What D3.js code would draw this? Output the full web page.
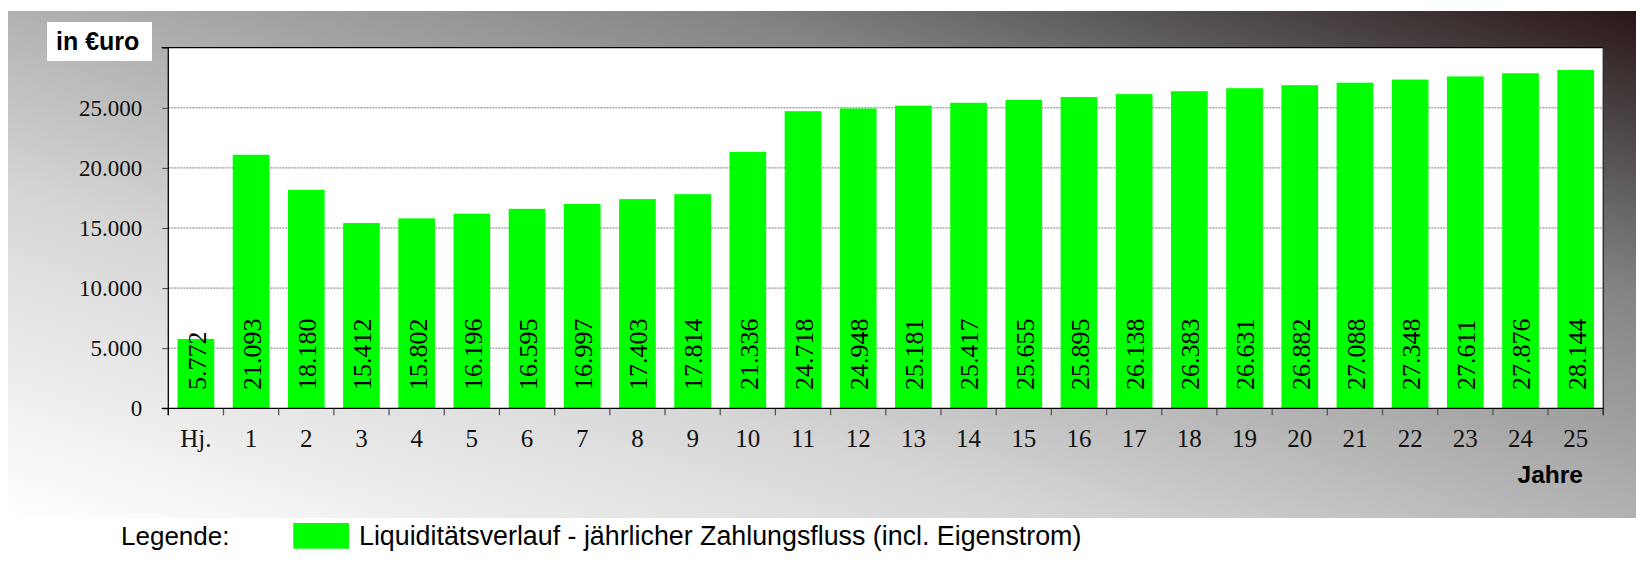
<!DOCTYPE html>
<html>
<head>
<meta charset="utf-8">
<script src="https://cdn.jsdelivr.net/npm/d3@7"></script>
<style>
  html, body { margin: 0; padding: 0; background: #ffffff; }
  svg { display: block; }
</style>
</head>
<body>
<svg id="chart" width="1636" height="576"></svg>
<script>
// ---- data ----
const categories = ["Hj.", "1", "2", "3", "4", "5", "6", "7", "8", "9", "10", "11", "12", "13", "14", "15", "16", "17", "18", "19", "20", "21", "22", "23", "24", "25"];
const values = [5772, 21093, 18180, 15412, 15802, 16196, 16595, 16997, 17403, 17814, 21336, 24718, 24948, 25181, 25417, 25655, 25895, 26138, 26383, 26631, 26882, 27088, 27348, 27611, 27876, 28144];
const yTicks = [0, 5000, 10000, 15000, 20000, 25000, 30000];
const yLabel = "in €uro";
const xLabel = "Jahre";
const legendTitle = "Legende:";
const seriesName = "Liquiditätsverlauf - jährlicher Zahlungsfluss (incl. Eigenstrom)";

const loc = d3.formatLocale({ decimal: ",", thousands: ".", grouping: [3], currency: ["", "€"] });
const fmt = loc.format(",d");

const svg = d3.select("#chart");
const defs = svg.append("defs");
const grad = defs.append("linearGradient").attr("id", "bg")
  .attr("x1", 0).attr("y1", 1).attr("x2", 1).attr("y2", 0);
[[0, "#ffffff"], [0.32, "#d6d6d6"], [0.5, "#b2b2b2"], [0.72, "#848484"], [0.88, "#4c4747"], [1, "#2a1616"]]
  .forEach(([o, c]) => grad.append("stop").attr("offset", o).attr("stop-color", c));

// background panel
svg.append("rect").attr("x", 8).attr("y", 11).attr("width", 1628).attr("height", 507).attr("fill", "url(#bg)");

// plot area
const pLeft = 168.3, pRight = 1603.3, pTop = 47.7, pBottom = 408.3;
svg.append("rect").attr("x", pLeft).attr("y", pTop).attr("width", pRight - pLeft).attr("height", pBottom - pTop).attr("fill", "#ffffff");

const x = d3.scaleBand().domain(categories).range([pLeft, pRight]).paddingInner(0.335).paddingOuter(0.1675);
const y = d3.scaleLinear().domain([0, 30000]).range([pBottom, pTop]);

// gridlines
svg.append("g").selectAll("line").data(yTicks.filter(t => t > 0 && t < 30000)).join("line")
  .attr("x1", pLeft).attr("x2", pRight)
  .attr("y1", d => y(d)).attr("y2", d => y(d))
  .attr("stroke", "#7a7a7a").attr("stroke-width", 1).attr("stroke-dasharray", "2,1");

// bars
svg.append("g").selectAll("rect").data(values).join("rect")
  .attr("x", (d, i) => x(categories[i]))
  .attr("y", d => y(d))
  .attr("width", x.bandwidth())
  .attr("height", d => pBottom - y(d))
  .attr("fill", "#00ff00");

// value labels
svg.append("g").selectAll("text").data(values).join("text")
  .attr("transform", (d, i) => `translate(${x(categories[i]) + x.bandwidth() / 2 + 1},390) rotate(-90)`)
  .attr("dy", "0.34em")
  .attr("font-family", "'Liberation Serif', 'Times New Roman', serif")
  .attr("font-size", 26)
  .attr("fill", "#000")
  .text(d => fmt(d));

// y axis
const yAxis = d3.axisLeft(y).tickValues(yTicks).tickSize(6).tickPadding(20)
  .tickFormat(d => d === 30000 ? "" : fmt(d));
const gy = svg.append("g").attr("transform", `translate(${pLeft},0)`).call(yAxis);
gy.select(".domain").remove();
gy.selectAll(".tick line").attr("stroke", "#444");
gy.selectAll(".tick text").attr("font-family", "'Liberation Serif', 'Times New Roman', serif")
  .attr("font-size", 23).attr("fill", "#111").attr("dy", "0.33em");

// x axis ticks at band boundaries
const boundaries = categories.map(c => x(c) - x.step() * x.paddingOuter()).concat([pRight]);
svg.append("g").selectAll("line").data(boundaries).join("line")
  .attr("x1", d => d).attr("x2", d => d).attr("y1", pBottom).attr("y2", pBottom + 7)
  .attr("stroke", "#555").attr("stroke-width", 1.3);
svg.append("g").selectAll("text").data(categories).join("text")
  .attr("x", d => x(d) + x.bandwidth() / 2)
  .attr("y", 447)
  .attr("text-anchor", "middle")
  .attr("font-family", "'Liberation Serif', 'Times New Roman', serif")
  .attr("font-size", 25).attr("fill", "#111")
  .text(d => d);

// frame lines
svg.append("line").attr("x1", pLeft - 6.6).attr("x2", pRight).attr("y1", pTop).attr("y2", pTop).attr("stroke", "#000").attr("stroke-width", 1.3);
svg.append("line").attr("x1", pLeft).attr("x2", pLeft).attr("y1", pTop).attr("y2", pBottom + 7).attr("stroke", "#000").attr("stroke-width", 1.3);
svg.append("line").attr("x1", pRight).attr("x2", pRight).attr("y1", pTop).attr("y2", pBottom + 7).attr("stroke", "#333").attr("stroke-width", 1.5);
svg.append("line").attr("x1", pLeft - 6.6).attr("x2", pRight).attr("y1", pBottom).attr("y2", pBottom).attr("stroke", "#000").attr("stroke-width", 1.3);

// y label box
svg.append("rect").attr("x", 47).attr("y", 22).attr("width", 105).attr("height", 39).attr("fill", "#ffffff");
svg.append("text").attr("x", 56).attr("y", 50)
  .attr("font-family", "'Liberation Sans', Arial, sans-serif").attr("font-weight", "bold")
  .attr("font-size", 25).attr("fill", "#000").text(yLabel);

// x label
svg.append("text").attr("x", 1583).attr("y", 483).attr("text-anchor", "end")
  .attr("font-family", "'Liberation Sans', Arial, sans-serif").attr("font-weight", "bold")
  .attr("font-size", 24.5).attr("fill", "#000").text(xLabel);

// legend
svg.append("text").attr("x", 121).attr("y", 545)
  .attr("font-family", "'Liberation Sans', Arial, sans-serif")
  .attr("font-size", 26).attr("fill", "#000").text(legendTitle);
svg.append("rect").attr("x", 293.3).attr("y", 523).attr("width", 55.7).attr("height", 25.7).attr("fill", "#00ff00");
svg.append("text").attr("x", 359).attr("y", 545)
  .attr("font-family", "'Liberation Sans', Arial, sans-serif")
  .attr("font-size", 26.8).attr("fill", "#000").text(seriesName);
</script>
</body>
</html>
